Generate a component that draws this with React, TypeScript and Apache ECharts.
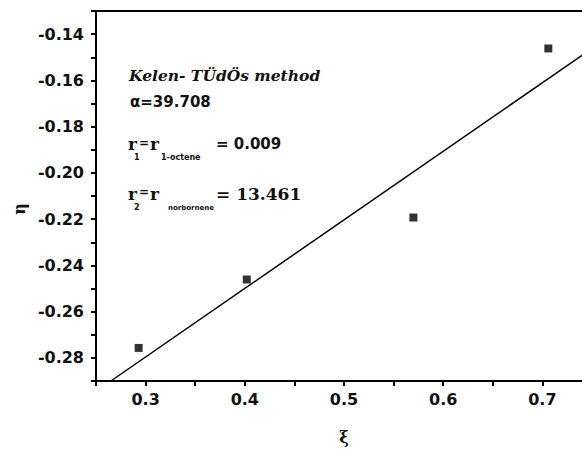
import React, { useEffect, useRef } from "react";
import * as echarts from "echarts";

// Kelen–Tüdös plot: η versus ξ
const xiValues = [0.293, 0.402, 0.570, 0.706];
const etaValues = [-0.2757, -0.2461, -0.2193, -0.1462];

// Fitted straight line (end points)
const fitXi = [0.265, 0.75];
const fitEta = [-0.29, -0.1462];

const xTickLabels = ["0.3", "0.4", "0.5", "0.6", "0.7"];
const yTickLabels = ["-0.14", "-0.16", "-0.18", "-0.20", "-0.22", "-0.24", "-0.26", "-0.28"];

const tickFont = {
  fontFamily: "DejaVu Sans",
  fontWeight: "bold" as const,
  fontSize: 16,
  color: "#111",
};

export default function App() {
  const ref = useRef<HTMLDivElement>(null);

  useEffect(() => {
    if (!ref.current) return;
    const chart = echarts.init(ref.current, null, { renderer: "svg" });

    const points = xiValues.map((x, i) => [x, etaValues[i]]);
    const fit = fitXi.map((x, i) => [x, fitEta[i]]);

    const serif = "DejaVu Serif";
    const sans = "DejaVu Sans";

    chart.setOption({
      animation: false,
      backgroundColor: "#fff",
      grid: {
        left: 96,
        top: 11,
        height: 370,
        width: 496,
        outerBoundsMode: "none",
        containLabel: false,
        show: true,
        borderColor: "#000",
        borderWidth: 2,
      },
      xAxis: {
        type: "value",
        min: 0.25,
        max: 0.75,
        interval: 0.05,
        name: "ξ",
        nameLocation: "middle",
        nameGap: 48,
        nameTextStyle: { fontFamily: serif, fontWeight: "bold", fontSize: 16, color: "#111" },
        axisLine: { show: true, onZero: false, lineStyle: { color: "#000", width: 2 } },
        axisTick: { show: true, length: 5, lineStyle: { color: "#000", width: 2 } },
        splitLine: { show: false },
        axisLabel: {
          ...tickFont,
          margin: 10,
          formatter: (v: number) => {
            const s = v.toFixed(1);
            return Math.round(v * 100) % 10 === 0 && xTickLabels.includes(s) ? s : "";
          },
        },
      },
      yAxis: {
        type: "value",
        min: -0.29,
        max: -0.13,
        interval: 0.01,
        axisLine: { show: true, onZero: false, lineStyle: { color: "#000", width: 2 } },
        axisTick: { show: true, length: 5, lineStyle: { color: "#000", width: 2 } },
        splitLine: { show: false },
        axisLabel: {
          ...tickFont,
          margin: 12,
          formatter: (v: number) => {
            const s = v.toFixed(2);
            return Math.abs(Math.round(v * 100)) % 2 === 0 && yTickLabels.includes(s) ? s : "";
          },
        },
      },
      series: [
        {
          type: "line",
          data: fit,
          symbol: "none",
          lineStyle: { color: "#000", width: 1.5 },
          clip: true,
          z: 2,
        },
        {
          type: "scatter",
          data: points,
          symbol: "rect",
          symbolSize: 8,
          itemStyle: { color: "#000" },
          z: 3,
        },
      ],
      graphic: [
        {
          type: "text",
          x: 19,
          y: 209,
          rotation: Math.PI / 2,
          style: {
            text: "η",
            font: `bold 16px "${serif}"`,
            fill: "#111",
            align: "center",
            verticalAlign: "middle",
          },
        },
        {
          type: "text",
          x: 129,
          y: 75,
          style: {
            text: "Kelen- TÜdÖs method",
            font: `italic bold 15.5px "${serif}"`,
            fill: "#111",
            verticalAlign: "middle",
          },
        },
        {
          type: "text",
          x: 130,
          y: 102,
          style: {
            text: "α=39.708",
            font: `bold 15px "${sans}"`,
            fill: "#111",
            verticalAlign: "middle",
          },
        },
        // r1 line
        { type: "text", x: 128, y: 144, style: { text: "r", font: `bold 17px "${serif}"`, lineHeight: 14, fill: "#111", verticalAlign: "middle" } },
        { type: "text", x: 134, y: 157, style: { text: "1", font: `bold 8px "${sans}"`, lineHeight: 8, fill: "#111", verticalAlign: "middle" } },
        { type: "text", x: 139, y: 143, style: { text: "=", font: `bold 12px "${sans}"`, fill: "#111", verticalAlign: "middle" } },
        { type: "text", x: 150, y: 144, style: { text: "r", font: `bold 17px "${serif}"`, lineHeight: 14, fill: "#111", verticalAlign: "middle" } },
        { type: "text", x: 161, y: 157, style: { text: "1-octene", font: `bold 8px "${sans}"`, lineHeight: 8, fill: "#111", verticalAlign: "middle" } },
        { type: "text", x: 216, y: 144, style: { text: "= 0.009", font: `bold 15px "${sans}"`, fill: "#111", verticalAlign: "middle" } },
        // r2 line
        { type: "text", x: 128, y: 194, style: { text: "r", font: `bold 17px "${serif}"`, lineHeight: 14, fill: "#111", verticalAlign: "middle" } },
        { type: "text", x: 134, y: 207, style: { text: "2", font: `bold 8px "${sans}"`, lineHeight: 8, fill: "#111", verticalAlign: "middle" } },
        { type: "text", x: 139, y: 192, style: { text: "=", font: `bold 12px "${sans}"`, fill: "#111", verticalAlign: "middle" } },
        { type: "text", x: 150, y: 194, style: { text: "r", font: `bold 17px "${serif}"`, lineHeight: 14, fill: "#111", verticalAlign: "middle" } },
        { type: "text", x: 168, y: 208, style: { text: "norbornene", font: `bold 7px "${sans}"`, lineHeight: 8, fill: "#111", verticalAlign: "middle" } },
        { type: "text", x: 216, y: 194, style: { text: "= 13.461", font: `bold 17px "${serif}"`, fill: "#111", verticalAlign: "middle" } },
      ],
    });

    return () => chart.dispose();
  }, []);

  return (
    <div
      ref={ref}
      style={{ position: "fixed", left: 0, top: 0, width: 582, height: 450, background: "#fff" }}
    />
  );
}
